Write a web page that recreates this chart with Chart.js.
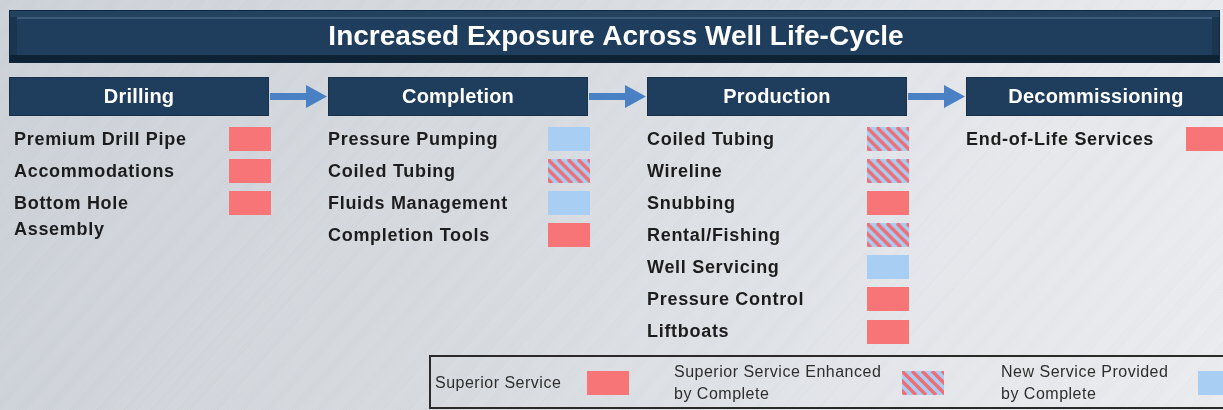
<!DOCTYPE html>
<html><head><meta charset="utf-8">
<script src="https://cdn.jsdelivr.net/npm/chart.js@4.4.1/dist/chart.umd.min.js"></script>
<style>html,body{margin:0;padding:0;background:#d9dde2;overflow:hidden}canvas{display:block}</style>
</head><body>
<canvas id="c" width="1223" height="410"></canvas>
<script>
// ---- data ----
const chartTitle = 'Increased Exposure Across Well Life-Cycle';
const stages = ['Drilling', 'Completion', 'Production', 'Decommissioning'];
const drillingServices = ['Premium Drill Pipe', 'Accommodations', 'Bottom Hole\nAssembly'];
const drillingRatings = ['superior', 'superior', 'superior'];
const completionServices = ['Pressure Pumping', 'Coiled Tubing', 'Fluids Management', 'Completion Tools'];
const completionRatings = ['new', 'enhanced', 'new', 'superior'];
const productionServices = ['Coiled Tubing', 'Wireline', 'Snubbing', 'Rental/Fishing', 'Well Servicing', 'Pressure Control', 'Liftboats'];
const productionRatings = ['enhanced', 'enhanced', 'superior', 'enhanced', 'new', 'superior', 'superior'];
const decommissioningServices = ['End-of-Life Services'];
const decommissioningRatings = ['superior'];
const ratingKeys = ['superior', 'enhanced', 'new'];
const ratingLabels = ['Superior Service', 'Superior Service Enhanced\nby Complete', 'New Service Provided\nby Complete'];

const serviceColumns = [drillingServices, completionServices, productionServices, decommissioningServices];
const ratingColumns = [drillingRatings, completionRatings, productionRatings, decommissioningRatings];

// ---- swatch images (styles) ----
const RED = '#f77576', BLUE = '#a8cef3', STRIPE = '#f06d74';
function makeSwatch(kind) {
  const c = document.createElement('canvas'); c.width = 42; c.height = 24;
  const g = c.getContext('2d');
  g.fillStyle = kind === 'superior' ? RED : BLUE;
  g.fillRect(0, 0, 42, 24);
  if (kind === 'enhanced') {
    g.save(); g.beginPath(); g.rect(0, 0, 42, 24); g.clip();
    g.strokeStyle = STRIPE; g.lineWidth = 3.4;
    for (let k = -30; k < 50; k += 10) { g.beginPath(); g.moveTo(k, 0); g.lineTo(k + 24, 24); g.stroke(); }
    g.restore();
  }
  return c;
}
const swatches = {};
ratingKeys.forEach(k => swatches[k] = makeSwatch(k));

function pointsFor(key) {
  const pts = [];
  ratingColumns.forEach((col, ci) => col.forEach((r, ri) => { if (r === key) pts.push({ x: ci, y: ri }); }));
  return pts;
}

const FONT = '"Liberation Sans", Arial, sans-serif';

const layoutPlugin = {
  id: 'layoutPlugin',
  beforeDraw(chart) {
    const ctx = chart.ctx, W = chart.width, H = chart.height;
    ctx.save();
    const bg = ctx.createLinearGradient(0, 0, W, H * 0.6);
    bg.addColorStop(0, '#cdd2d8'); bg.addColorStop(0.45, '#d8dce1'); bg.addColorStop(0.8, '#e5e7eb'); bg.addColorStop(1, '#e9ebee');
    ctx.fillStyle = bg; ctx.fillRect(0, 0, W, H);
    // brushed streaks
    ctx.lineWidth = 1;
    for (let i = -H; i < W + H; i += 3) {
      const a = 0.04 + 0.035 * Math.sin(i * 0.37) * Math.sin(i * 0.11);
      ctx.strokeStyle = (Math.sin(i * 0.23) > 0) ? 'rgba(255,255,255,' + Math.abs(a) + ')' : 'rgba(120,130,140,' + Math.abs(a) * 0.8 + ')';
      ctx.beginPath(); ctx.moveTo(i, H); ctx.lineTo(i + H * 0.9, 0); ctx.stroke();
    }
    ctx.restore();

    // title bar
    ctx.save();
    ctx.fillStyle = '#112840'; ctx.fillRect(9, 10, 1211, 53);
    ctx.fillStyle = '#23425f'; ctx.fillRect(10, 11, 1209, 6);
    ctx.fillStyle = '#1a3550'; ctx.fillRect(10, 17, 7, 38); ctx.fillRect(1212, 17, 7, 38);
    ctx.fillStyle = '#0e2236'; ctx.fillRect(10, 55, 1209, 7);
    ctx.fillStyle = '#1f3d5c'; ctx.fillRect(17, 17, 1195, 38);
    ctx.fillStyle = '#3c5b79'; ctx.fillRect(17, 17, 1195, 2);
    ctx.fillStyle = '#ffffff'; ctx.font = 'bold 28px ' + FONT;
    ctx.textAlign = 'center'; ctx.textBaseline = 'middle';
    ctx.fillText(chartTitle, 616, 37);
    ctx.restore();
  },
  afterDatasetsDraw(chart) {
    const ctx = chart.ctx, xs = chart.scales.x, ys = chart.scales.y;
    ctx.save();
    // stage headers and arrows
    stages.forEach((s, ci) => {
      const left = Math.round(xs.getPixelForValue(ci)) - 241;
      ctx.fillStyle = '#1f3d5d'; ctx.fillRect(left, 77, 260, 39);
      ctx.strokeStyle = '#18304a'; ctx.lineWidth = 1; ctx.strokeRect(left + 0.5, 77.5, 259, 38);
      ctx.fillStyle = '#ffffff'; ctx.font = 'bold 20px ' + FONT;
      ctx.letterSpacing = '0.2px';
      ctx.textAlign = 'center'; ctx.textBaseline = 'middle';
      ctx.fillText(s, left + 130, 97);
      if (ci < stages.length - 1) {
        const nextLeft = Math.round(xs.getPixelForValue(ci + 1)) - 241;
        const x0 = left + 261, x1 = nextLeft - 1, hx = x1 - 21;
        ctx.fillStyle = '#4a80c4';
        ctx.beginPath();
        ctx.moveTo(x0, 93); ctx.lineTo(hx, 93); ctx.lineTo(hx, 85); ctx.lineTo(x1, 96.5);
        ctx.lineTo(hx, 108); ctx.lineTo(hx, 100); ctx.lineTo(x0, 100); ctx.closePath(); ctx.fill();
      }
    });
    // service labels
    ctx.fillStyle = '#1c1c1c'; ctx.font = 'bold 18px ' + FONT; ctx.letterSpacing = '0.7px';
    ctx.textAlign = 'left'; ctx.textBaseline = 'middle';
    serviceColumns.forEach((col, ci) => {
      const x = xs.getPixelForValue(ci) - 241 + (ci === 0 ? 5 : 0);
      col.forEach((label, ri) => {
        const y = ys.getPixelForValue(ri) + 1;
        label.split('\n').forEach((ln, li) => ctx.fillText(ln, x, y + li * 26));
      });
    });
    // legend box
    ctx.letterSpacing = '0px';
    ctx.strokeStyle = '#2a2a2a'; ctx.lineWidth = 2;
    ctx.strokeRect(430, 356, 800, 52);
    ctx.font = '16px ' + FONT; ctx.letterSpacing = '0.5px'; ctx.fillStyle = '#2e2e2e';
    const textX = [435, 674, 1001], swX = [608, 923, 1219];
    ratingKeys.forEach((k, i) => {
      const lines = ratingLabels[i].split('\n');
      lines.forEach((ln, li) => ctx.fillText(ln, textX[i], 384 + (li - (lines.length - 1) / 2) * 22));
      ctx.drawImage(swatches[k], swX[i] - 21, 371);
    });
    ctx.restore();
  }
};

new Chart(document.getElementById('c'), {
  type: 'scatter',
  data: {
    datasets: ratingKeys.map((k, i) => ({
      label: ratingLabels[i].replace('\n', ' '),
      data: pointsFor(k),
      pointStyle: swatches[k],
      pointRadius: 5,
      pointHoverRadius: 5
    }))
  },
  options: {
    responsive: false,
    devicePixelRatio: 1,
    animation: false,
    events: [],
    layout: { padding: 0, autoPadding: false },
    plugins: { legend: { display: false }, tooltip: { enabled: false }, title: { display: false } },
    scales: {
      x: { type: 'linear', display: false, min: -0.7837, max: 3.0501 },
      y: { type: 'linear', display: false, reverse: true, min: -4.359, max: 8.453 }
    }
  },
  plugins: [layoutPlugin]
});
</script>
</body></html>
